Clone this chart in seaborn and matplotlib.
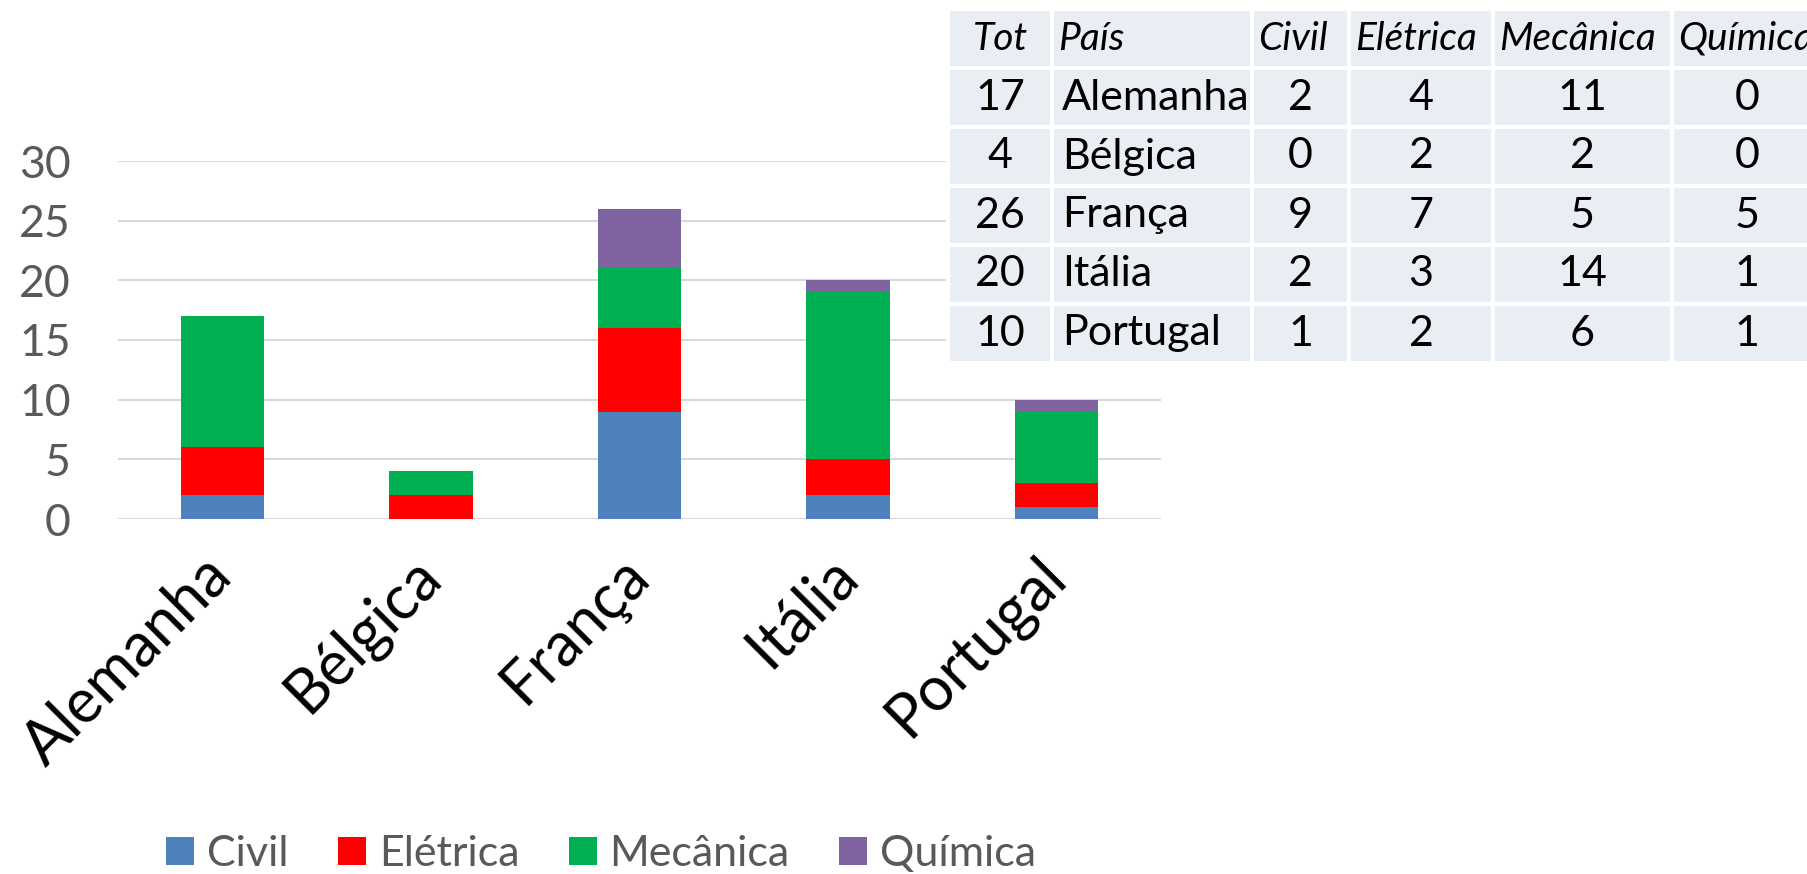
import seaborn as sns
import matplotlib.pyplot as plt
import numpy as np
import pandas as pd
from matplotlib.patches import Patch

paises = ['Alemanha', 'Bélgica', 'França', 'Itália', 'Portugal']
areas = ['Civil', 'Elétrica', 'Mecânica', 'Química']
civil = [2, 0, 9, 2, 1]
eletrica = [4, 2, 7, 3, 2]
mecanica = [11, 2, 5, 14, 6]
quimica = [0, 0, 5, 1, 1]
cabecalho = ['Tot', 'País', 'Civil', 'Elétrica', 'Mecânica', 'Química']
yticks = [0, 5, 10, 15, 20, 25, 30]

cores = ['#4F81BD', '#FF0000', '#00B050', '#8064A2']
cinza = '#595959'

sns.set_theme(style='white')
plt.rcParams['font.family'] = ['Lato', 'DejaVu Sans']

df = pd.DataFrame({'País': paises, 'Civil': civil, 'Elétrica': eletrica,
                   'Mecânica': mecanica, 'Química': quimica})
df['Tot'] = df[areas].sum(axis=1)
cum = df[areas].cumsum(axis=1)

W, H = 1808, 874
fig = plt.figure(figsize=(W / 100, H / 100), dpi=100)
ax = fig.add_axes([118 / W, 1 - 519 / H, (1161 - 118) / W, (519 - 161) / H])

# barras empilhadas: desenha do total para baixo
for area, cor in reversed(list(zip(areas, cores))):
    sns.barplot(x=df['País'], y=cum[area], color=cor, width=0.4, saturation=1,
                ax=ax, linewidth=0)

ax.set_xlim(-0.5, 4.5)
ax.set_ylim(0, 30)
ax.set_yticks(yticks)
ax.set_xlabel('')
ax.set_ylabel('')
sns.despine(ax=ax, left=True, bottom=True)
ax.yaxis.grid(True, color='#D9D9D9', lw=1.5)
ax.set_axisbelow(True)
ax.tick_params(axis='y', length=0, labelsize=32, labelcolor=cinza, pad=34)
ax.tick_params(axis='x', length=0, labelsize=44, labelcolor='black', pad=34)
for lbl in ax.get_xticklabels():
    lbl.set_rotation(45)
    lbl.set_ha('right')
    lbl.set_va('center')
    lbl.set_rotation_mode('anchor')

handles = [Patch(facecolor=c, edgecolor='none') for c in cores]
fig.legend(handles, areas, loc='center', bbox_to_anchor=(601 / W, 1 - 854 / H),
           ncol=4, frameon=False, fontsize=31, labelcolor=cinza,
           handlelength=0.65, handleheight=0.65, handletextpad=0.3,
           columnspacing=1.15)

# tabela no canto superior direito
larg = np.array([104, 200, 97, 144, 179, 150])
tab_ax = fig.add_axes([948 / W, 1 - 363 / H, larg.sum() / W, 354 / H])
tab_ax.axis('off')
linhas = df[['Tot', 'País'] + areas].astype(str).values.tolist()
tabela = tab_ax.table(cellText=linhas, colLabels=cabecalho,
                      colWidths=list(larg / larg.sum()), bbox=[0, 0, 1, 1],
                      cellLoc='center')
tabela.auto_set_font_size(False)
tabela.set_fontsize(31)
for (r, c), cell in tabela.get_celld().items():
    cell.set_facecolor('#E9EDF4')
    cell.set_edgecolor('white')
    cell.set_linewidth(3)
    txt = cell.get_text()
    txt.set_color('black')
    if r == 0:
        txt.set_fontstyle('italic')
        txt.set_fontsize(28)
        if c > 0:
            txt.set_ha('left')
            cell.PAD = 6 / larg[c]
    elif c == 1:
        txt.set_ha('left')
        cell.PAD = 10 / larg[c]

fig.savefig('out.png', dpi=100)
